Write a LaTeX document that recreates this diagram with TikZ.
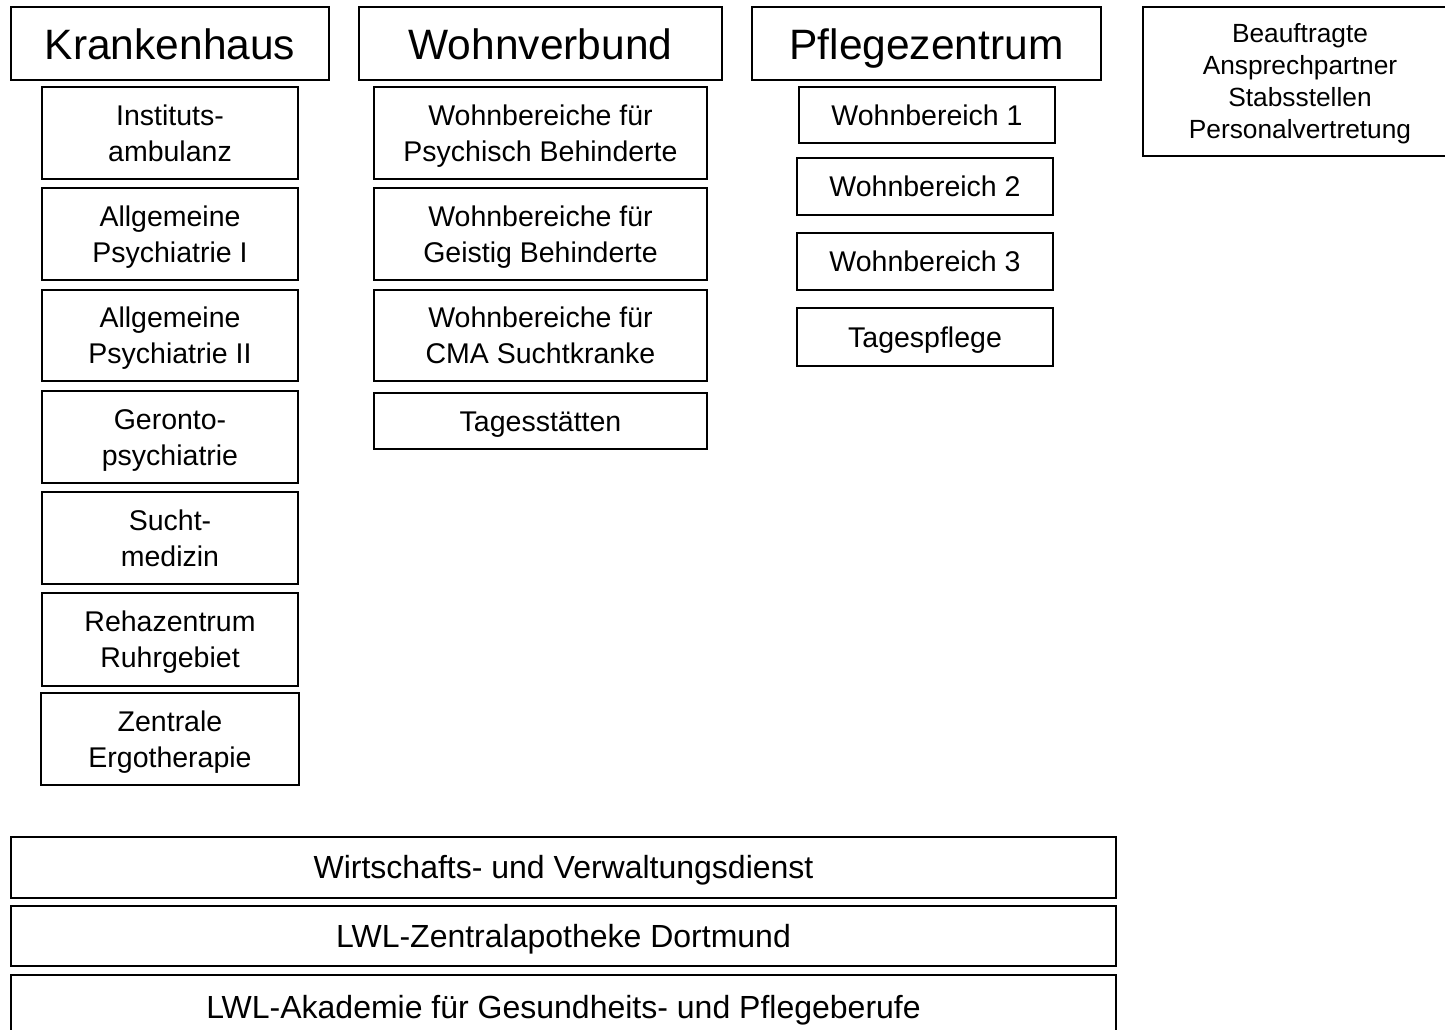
\documentclass[tikz,border=0pt]{standalone}
\usepackage{fontspec}
\setmainfont{Liberation Sans}
\begin{document}
\begin{tikzpicture}[x=1pt,y=-1pt,
  box/.style={draw=black,line width=2pt,fill=white,inner sep=0pt,align=center,
    font=\fontsize{28.5}{36}\selectfont,text height=20.4pt,text depth=0pt},
  twol/.style={text height=56.4pt},
  head/.style={box,font=\fontsize{42.5}{50}\selectfont,text height=33pt,text depth=0pt},
  small/.style={box,font=\fontsize{26.3}{32}\selectfont,text height=114.8pt,text depth=0pt},
  wide/.style={box,font=\fontsize{32}{36}\selectfont,text height=22.9pt,text depth=0pt,minimum width=1105pt}]
\useasboundingbox (0,0) rectangle (1445,1030);
% headers
\node[head,minimum width=318pt,minimum height=73pt] (kh) at (170,43.5) {Krankenhaus};
\node[head,minimum width=363pt,minimum height=73pt] (wv) at (540.5,43.5) {Wohnverbund};
\node[head,minimum width=349pt,minimum height=73pt] (pz) at (926.5,43.5) {Pflegezentrum};
\node[small,minimum width=314pt,minimum height=149pt] (be) at (1300,81.5) {Beauftragte\\Ansprechpartner\\Stabsstellen\\Personalvertretung};
% Krankenhaus
\node[box,twol,minimum width=256pt,minimum height=92pt] (k1) at (170,133) {Instituts-\\ambulanz};
\node[box,twol,minimum width=256pt,minimum height=92pt] (k2) at (170,234) {Allgemeine\\Psychiatrie I};
\node[box,twol,minimum width=256pt,minimum height=91pt] (k3) at (170,335.5) {Allgemeine\\Psychiatrie II};
\node[box,twol,minimum width=256pt,minimum height=92pt] (k4) at (170,437) {Geronto-\\psychiatrie};
\node[box,twol,minimum width=256pt,minimum height=92pt] (k5) at (170,538) {Sucht-\\medizin};
\node[box,twol,minimum width=256pt,minimum height=93pt] (k6) at (170,639.5) {Rehazentrum\\Ruhrgebiet};
\node[box,twol,minimum width=258pt,minimum height=92pt] (k7) at (170,739) {Zentrale\\Ergotherapie};
% Wohnverbund
\node[box,twol,minimum width=333pt,minimum height=92pt] (w1) at (540.5,133) {Wohnbereiche für\\Psychisch Behinderte};
\node[box,twol,minimum width=333pt,minimum height=92pt] (w2) at (540.5,234) {Wohnbereiche für\\Geistig Behinderte};
\node[box,twol,minimum width=333pt,minimum height=91pt] (w3) at (540.5,335.5) {Wohnbereiche für\\CMA Suchtkranke};
\node[box,minimum width=333pt,minimum height=56pt] (w4) at (540.5,421) {Tagesstätten};
% Pflegezentrum
\node[box,minimum width=256pt,minimum height=56pt] (p1) at (927,115) {Wohnbereich 1};
\node[box,minimum width=256pt,minimum height=57pt] (p2) at (925,186.5) {Wohnbereich 2};
\node[box,minimum width=256pt,minimum height=57pt] (p3) at (925,261.5) {Wohnbereich 3};
\node[box,minimum width=256pt,minimum height=58pt] (p4) at (925,337) {Tagespflege};
% bottom
\node[wide,minimum height=61pt] (b1) at (563.5,867.5) {Wirtschafts- und Verwaltungsdienst};
\node[wide,minimum height=60pt] (b2) at (563.5,936) {LWL-Zentralapotheke Dortmund};
\node[wide,minimum height=64pt] (b3) at (563.5,1007) {LWL-Akademie für Gesundheits- und Pflegeberufe};
\end{tikzpicture}
\end{document}
